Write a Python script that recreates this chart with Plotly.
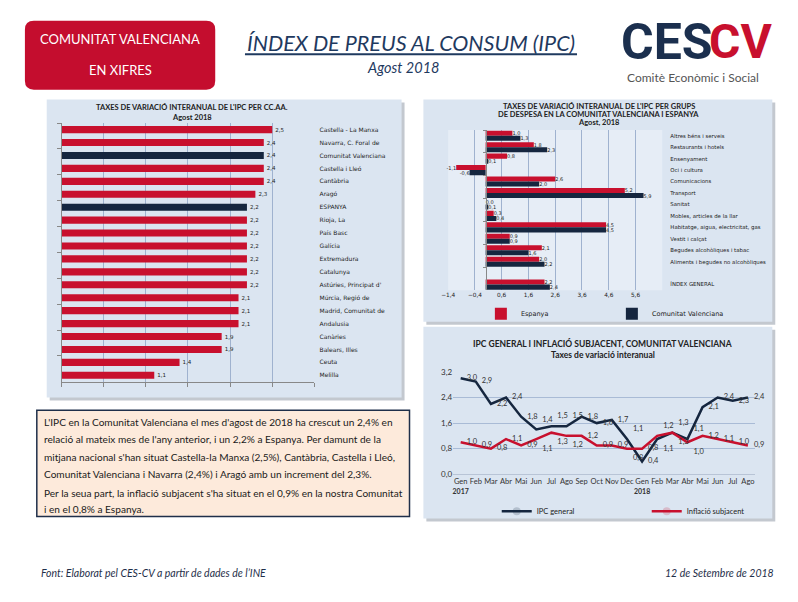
import plotly.graph_objects as go

W, H = 798, 602
OFF = 8  # the page body adds an 8px margin around the figure


def fx(x):
    return (x - OFF) / W


def fy(y):
    return 1 - (y - OFF) / H


RED = "#c8102e"
NAVY = "#15263f"
PANEL = "#dbe5f1"
GRID = "#9fb2cf"
TXT = "#222222"

# ---------------- data ----------------
regions = ["Castella - La Manxa", "Navarra, C. Foral de", "Comunitat Valenciana",
           "Castella i Lleó", "Cantàbria", "Aragó", "ESPANYA", "Rioja, La",
           "País Basc", "Galícia", "Extremadura", "Catalunya",
           "Astúries, Principat d'", "Múrcia, Regió de", "Madrid, Comunitat de",
           "Andalusia", "Canàries", "Balears, Illes", "Ceuta", "Melilla"]
region_values = [2.5, 2.4, 2.4, 2.4, 2.4, 2.3, 2.2, 2.2, 2.2, 2.2, 2.2, 2.2,
                 2.2, 2.1, 2.1, 2.1, 1.9, 1.9, 1.4, 1.1]
highlight_regions = ["Comunitat Valenciana", "ESPANYA"]

groups = ["Altres béns i serveis", "Restaurants i hotels", "Ensenyament",
          "Oci i cultura", "Comunicacions", "Transport", "Sanitat",
          "Mobles, articles de la llar", "Habitatge, aigua, electricitat, gas",
          "Vestit i calçat", "Begudes alcohòliques i tabac",
          "Aliments i begudes no alcohòliques", " ", "ÍNDEX GENERAL"]
spain_values = [1.0, 1.8, 0.8, -1.1, 2.6, 5.2, 0.0, 0.3, 4.5, 0.9, 2.1, 2.0, None, 2.2]
cv_values = [1.3, 2.3, 0.1, -0.6, 2.0, 5.9, 0.1, 0.4, 4.5, 0.9, 1.6, 2.2, None, 2.4]

month_labels = ["Gen", "Feb", "Mar", "Abr", "Mai", "Jun", "Jul", "Ago", "Sep", "Oct",
                "Nov", "Dec", "Gen", "Feb", "Mar", "Abr", "Mai", "Jun", "Jul", "Ago"]
year_labels = ["2017", "", "", "", "", "", "", "", "", "", "", "",
               "2018", "", "", "", "", "", "", ""]
ipc_general = [3.0, 2.9, 2.2, 2.4, 1.8, 1.4, 1.5, 1.5, 1.8, 1.6, 1.7, 1.1,
               0.4, 1.1, 1.3, 1.1, 2.1, 2.4, 2.3, 2.4]
core_inflation = [1.0, 0.9, 0.8, 1.1, 0.9, 1.1, 1.3, 1.2, 1.2, 0.9, 0.9, 0.8,
                  0.8, 1.2, 1.3, 1.0, 1.2, 1.1, 1.0, 0.9]

fig = go.Figure()

# ---------------- chart 1 ----------------
bar_colors = [NAVY if r in highlight_regions else RED for r in regions]
fig.add_trace(go.Bar(
    x=region_values, y=regions, orientation="h", width=0.55,
    marker=dict(color=bar_colors, line=dict(width=0)),
    texttemplate="%{x:.1f}", textposition="outside",
    textfont=dict(size=5.5, color=TXT, family="DejaVu Sans"),
    cliponaxis=False, constraintext="none",
    xaxis="x", yaxis="y", showlegend=False, hoverinfo="skip"))
fig.add_trace(go.Scatter(
    x=region_values, y=regions, mode="markers", marker=dict(opacity=0),
    xaxis="x", yaxis="y2", showlegend=False, hoverinfo="skip"))

# ---------------- chart 2 ----------------
fig.add_trace(go.Bar(
    name="Espanya", x=spain_values, y=groups, orientation="h",
    marker=dict(color=RED, line=dict(width=0)),
    texttemplate="%{x:.1f}", textposition="outside",
    textfont=dict(size=5, color=TXT, family="DejaVu Sans"),
    cliponaxis=False, constraintext="none",
    xaxis="x2", yaxis="y3", legend="legend", hoverinfo="skip"))
fig.add_trace(go.Bar(
    name="Comunitat Valenciana", x=cv_values, y=groups, orientation="h",
    marker=dict(color=NAVY, line=dict(width=0)),
    texttemplate="%{x:.1f}", textposition="outside",
    textfont=dict(size=5, color=TXT, family="DejaVu Sans"),
    cliponaxis=False, constraintext="none",
    xaxis="x2", yaxis="y3", legend="legend", hoverinfo="skip"))
fig.add_trace(go.Scatter(
    x=cv_values, y=groups, mode="markers", marker=dict(opacity=0),
    xaxis="x2", yaxis="y4", showlegend=False, hoverinfo="skip"))

# ---------------- chart 3 ----------------
month_idx = list(range(len(month_labels)))
tick_text = [m if not y else f"{m}<br><b><span style='font-size:7px'>{y}</span></b>"
             for m, y in zip(month_labels, year_labels)]
# where the two series are close, push the labels apart (above / below)
close = [abs(a - b) < 0.35 for a, b in zip(ipc_general, core_inflation)]
ipc_pos = ["top right" if c and a >= b else ("bottom right" if c else "middle right")
           for c, a, b in zip(close, ipc_general, core_inflation)]
core_pos = ["bottom right" if c and a >= b else ("top right" if c else "middle right")
            for c, a, b in zip(close, ipc_general, core_inflation)]

fig.add_trace(go.Scatter(
    name="IPC general", x=month_idx, y=ipc_general, mode="lines+markers+text",
    line=dict(color=NAVY, width=2.5), marker=dict(size=8, opacity=0),
    texttemplate="%{y:.1f}", textposition=ipc_pos,
    textfont=dict(size=7.5, color="#333", family="Lato"),
    xaxis="x3", yaxis="y5", legend="legend2", cliponaxis=False, hoverinfo="skip"))
fig.add_trace(go.Scatter(
    name="Inflació subjacent", x=month_idx, y=core_inflation, mode="lines+markers+text",
    line=dict(color=RED, width=2.5), marker=dict(size=8, opacity=0),
    texttemplate="%{y:.1f}", textposition=core_pos,
    textfont=dict(size=7.5, color="#333", family="Lato"),
    xaxis="x3", yaxis="y5", legend="legend2", cliponaxis=False, hoverinfo="skip"))

# ---------------- axes ----------------
x2_lo, x2_hi = -1.4, 6.6
x2_dom = [fx(445), fx(661)]
zero_pos = x2_dom[0] + (0 - x2_lo) / (x2_hi - x2_lo) * (x2_dom[1] - x2_dom[0])
x2_ticks = [round(x2_lo + i, 1) for i in range(8)]

n1 = len(regions)
n2 = len(groups)

fig.update_layout(
    width=W, height=H, margin=dict(l=0, r=0, t=0, b=0),
    paper_bgcolor="white", plot_bgcolor="white",
    separators=",.", barmode="group", bargap=0.12, bargroupgap=0,
    font=dict(family="Lato", color=TXT),
    xaxis=dict(domain=[fx(55), fx(310)], anchor="y", range=[0, 3], tick0=0, dtick=0.5,
               showgrid=True, gridcolor=GRID, gridwidth=1, zeroline=False,
               showticklabels=False, ticks="outside", ticklen=4, tickcolor="#888",
               showline=True, linecolor="#888", fixedrange=True),
    yaxis=dict(domain=[fy(383), fy(120)], anchor="x", type="category",
               categoryorder="array", categoryarray=regions, range=[n1 - 0.5, -0.5],
               tickson="boundaries", ticks="outside", ticklen=4, tickcolor="#888",
               showticklabels=False, showline=True, linecolor="#888", showgrid=False),
    yaxis2=dict(overlaying="y", side="right", anchor="x", type="category",
                categoryorder="array", categoryarray=regions, range=[n1 - 0.5, -0.5],
                showgrid=False, showline=False, ticks="outside", ticklen=3,
                tickcolor="rgba(0,0,0,0)",
                tickfont=dict(size=6, family="DejaVu Sans", color=TXT)),
    xaxis2=dict(domain=x2_dom, anchor="y3", range=[x2_lo, x2_hi], tickmode="array",
                tickvals=x2_ticks, tickformat=".1f", showgrid=True, gridcolor=GRID,
                zeroline=False, showline=False, ticks="",
                tickfont=dict(size=5.8, family="DejaVu Sans", color=TXT)),
    yaxis3=dict(domain=[fy(290), fy(127)], anchor="x2", side="right", type="category",
                categoryorder="array", categoryarray=groups, range=[n2 - 0.5, -0.5],
                showgrid=False, showline=False, ticks="outside", ticklen=6,
                tickcolor="rgba(0,0,0,0)",
                tickfont=dict(size=5.4, family="DejaVu Sans", color=TXT)),
    yaxis4=dict(overlaying="y3", anchor="free", position=zero_pos, side="left",
                type="category", categoryorder="array", categoryarray=groups,
                range=[n2 - 0.5, -0.5], tickson="boundaries", ticks="outside", ticklen=3,
                tickcolor="#888", showticklabels=False, showline=True, linecolor="#888",
                showgrid=False),
    xaxis3=dict(domain=[fx(450), fx(755)], anchor="y5", range=[-0.5, len(month_idx) - 0.5],
                tickmode="array", tickvals=month_idx, ticktext=tick_text, tickangle=0,
                showgrid=False, zeroline=False, showline=True, linecolor="#b8c4d6", ticks="",
                tickfont=dict(size=7.5, family="Lato", color="#333")),
    yaxis5=dict(domain=[fy(477), fy(373)], anchor="x3", range=[0, 3.2], tick0=0, dtick=0.8,
                tickformat=".1f", showgrid=True, gridcolor="#a9bbd6", zeroline=False,
                showline=False, tickfont=dict(size=8, family="Lato", color="#333")),
    legend=dict(x=fx(478), y=fy(299), xanchor="left", yanchor="top", orientation="h",
                bgcolor="rgba(0,0,0,0)", font=dict(size=6.5, family="DejaVu Sans", color=TXT),
                entrywidth=86, entrywidthmode="pixels", itemwidth=30),
    legend2=dict(x=fx(494), y=fy(500), xanchor="left", yanchor="top", orientation="h",
                 bgcolor="rgba(0,0,0,0)", font=dict(size=7.5, family="Lato", color=TXT),
                 entrywidth=105, entrywidthmode="pixels", itemwidth=30),
)

# ---------------- shapes ----------------
shapes = []


def rect(x0, y0, x1, y1, fill, line=None, lw=0, layer="below"):
    shapes.append(dict(type="rect", xref="paper", yref="paper",
                       x0=fx(x0), x1=fx(x1), y0=fy(y1), y1=fy(y0),
                       fillcolor=fill, line=dict(color=line or fill, width=lw),
                       layer=layer))


# header red rounded box
bx0, by0, bx1, by1, r = 18, 16, 210, 86, 9
path = (f"M {fx(bx0 + r)} {fy(by0)} L {fx(bx1 - r)} {fy(by0)} "
        f"Q {fx(bx1)} {fy(by0)} {fx(bx1)} {fy(by0 + r)} "
        f"L {fx(bx1)} {fy(by1 - r)} Q {fx(bx1)} {fy(by1)} {fx(bx1 - r)} {fy(by1)} "
        f"L {fx(bx0 + r)} {fy(by1)} Q {fx(bx0)} {fy(by1)} {fx(bx0)} {fy(by1 - r)} "
        f"L {fx(bx0)} {fy(by0 + r)} Q {fx(bx0)} {fy(by0)} {fx(bx0 + r)} {fy(by0)} Z")
shapes.append(dict(type="path", xref="paper", yref="paper", path=path,
                   fillcolor="#c40d2e", line=dict(width=0), layer="below"))
# title underline
shapes.append(dict(type="line", xref="paper", yref="paper", x0=fx(240), x1=fx(575),
                   y0=fy(50), y1=fy(50), line=dict(color="#1f3a5f", width=2)))

# panels with shadows
for (x0, y0, x1, y1) in [(40, 96, 398, 399), (420, 96, 772, 322), (420, 327, 772, 522)]:
    rect(x0 + 3, y0 + 3, x1 + 3, y1 + 3, "#c3c8cf")
    rect(x0, y0, x1, y1, PANEL)
# chart 2 plot area background
shapes.append(dict(type="rect", xref="x2 domain", yref="y3 domain", x0=0, x1=1, y0=0, y1=1,
                   fillcolor="#e6edf6", line=dict(width=0), layer="below"))
# text box
rect(30, 412, 406, 520, "#fdeadb", line="#1f2f4a", lw=1.5)

fig.update_layout(shapes=shapes)

# ---------------- annotations ----------------
ann = []


def text(x, y, s, size, color=TXT, family="Lato", xanchor="center", yanchor="middle"):
    ann.append(dict(x=fx(x), y=fy(y), xref="paper", yref="paper", text=s, showarrow=False,
                    font=dict(size=size, color=color, family=family),
                    xanchor=xanchor, yanchor=yanchor))


text(114, 34, "COMUNITAT VALENCIANA", 13, "white")
text(114, 66, "EN XIFRES", 13, "white")
text(407, 38, "<i>ÍNDEX DE PREUS AL CONSUM (IPC)</i>", 21.5, "#1f3a5f")
text(400, 63, "<i>Agost 2018</i>", 14.5, "#1f3a5f")
text(714, 37, "<b>CES</b>", 50, "#1b2f4e", family="Roboto", xanchor="right")
text(706, 37, "<b>CV</b>", 48, "#c8102e", family="Roboto", xanchor="left")
text(692, 74, "Comitè Econòmic i Social", 12, "#555555")

text(187, 104, "<b>TAXES DE VARIACIÓ INTERANUAL DE L'IPC PER CC.AA.</b>", 7.5)
text(187, 114, "<b>Agost 2018</b>", 7.5)

text(597, 103, "<b>TAXES DE VARIACIÓ INTERANUAL DE L'IPC PER GRUPS</b>", 7.5)
text(597, 111, "<b>DE DESPESA EN LA COMUNITAT VALENCIANA I ESPANYA</b>", 7.5)
text(597, 119, "<b>Agost, 2018</b>", 7.5)

text(601, 344, "<b>IPC GENERAL I INFLACIÓ SUBJACENT, COMUNITAT VALENCIANA</b>", 8.5)
text(601, 356, "<b>Taxes de variació interanual</b>", 8.5)

para = [
    (424, "L'IPC en la Comunitat Valenciana el mes d'agost de 2018 ha crescut un 2,4% en"),
    (441, "relació al mateix mes de l'any anterior, i un 2,2% a Espanya. Per damunt de la"),
    (459, "mitjana nacional s'han situat Castella-la Manxa (2,5%), Cantàbria, Castella i Lleó,"),
    (477, "Comunitat Valenciana i Navarra (2,4%) i Aragó amb un increment del 2,3%."),
    (496, "Per la seua part, la inflació subjacent s'ha situat en el 0,9% en la nostra Comunitat"),
    (512, "i en el 0,8% a Espanya."),
]
for yy, s in para:
    text(35, yy, s, 10.1, "#1a1a1a", xanchor="left")

text(32, 577, "<i>Font: Elaborat pel CES-CV a partir de dades de l’INE</i>", 10.5, "#1f2f4a",
     xanchor="left")
text(776, 577, "<i>12 de Setembre de 2018</i>", 10.5, "#1f2f4a", xanchor="right")

fig.update_layout(annotations=ann)

fig.write_html("out.html")
